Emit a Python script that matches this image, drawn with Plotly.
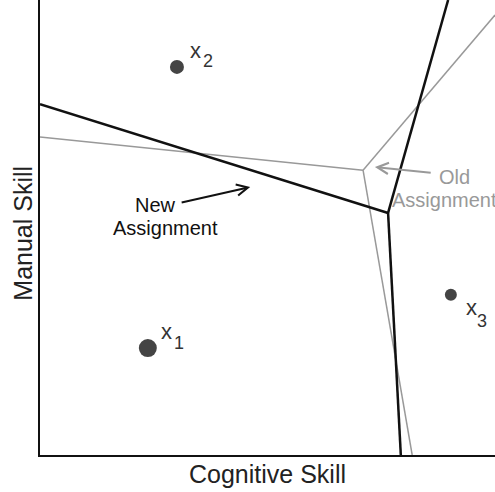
import plotly.graph_objects as go

# ---- data (axis units 0..10 on both axes) ----
point_names = ["1", "2", "3"]
point_x = [2.37, 3.01, 9.03]
point_y = [2.35, 8.53, 3.52]

# new assignment boundaries: vertex + three ends
new_vertex = (7.65, 5.32)
new_ends_x = [0.0, 8.97, 7.93]
new_ends_y = [7.71, 10.0, 0.0]

# old assignment boundaries
old_vertex = (7.10, 6.26)
old_ends_x = [0.0, 10.0, 8.18]
old_ends_y = [6.99, 9.67, 0.0]

# arrows (tail -> head)
new_arrow = {"tail": (3.08, 5.54), "head": (4.62, 5.89)}
old_arrow = {"tail": (8.62, 6.20), "head": (7.36, 6.33)}

# text labels
new_label_lines = ["New", "Assignment"]
new_label_x = [2.53, 2.75]
new_label_y = [5.49, 4.99]
old_label_lines = ["Old", "Assignment"]
old_label_x = [9.12, 8.88]
old_label_y = [6.11, 5.60]

x_title = "Cognitive Skill"
y_title = "Manual Skill"

# ---- styles ----
point_sizes = [18, 14, 12]
label_offsets = [((19, 17), (31, 5)), ((19, 16), (31, 6)), ((21, -13), (31, -26))]
dot_color = "#444444"
black = "#111111"
gray = "#999999"
FONT = "Liberation Sans, Arial, Helvetica, sans-serif"

fig = go.Figure()

def boundary(vertex, ex, ey, color, width):
    xs, ys = [], []
    for x, y in zip(ex, ey):
        xs += [vertex[0], x, None]
        ys += [vertex[1], y, None]
    fig.add_trace(go.Scatter(x=xs, y=ys, mode="lines",
                             line=dict(color=color, width=width),
                             hoverinfo="skip", showlegend=False))

boundary(old_vertex, old_ends_x, old_ends_y, gray, 1.5)
boundary(new_vertex, new_ends_x, new_ends_y, black, 2.5)

fig.add_trace(go.Scatter(x=point_x, y=point_y, mode="markers",
                         marker=dict(size=point_sizes, color=dot_color, opacity=1,
                                     line=dict(width=0)),
                         hoverinfo="skip", showlegend=False))

# point labels x_i
for name, px, py, (xo, so) in zip(point_names, point_x, point_y, label_offsets):
    fig.add_annotation(x=px, y=py, text="x", showarrow=False,
                       xshift=xo[0], yshift=xo[1],
                       font=dict(family=FONT, size=22, color="#333333"))
    fig.add_annotation(x=px, y=py, text=name, showarrow=False,
                       xshift=so[0], yshift=so[1],
                       font=dict(family=FONT, size=18, color="#333333"))

# text labels
for t, x, y in zip(new_label_lines, new_label_x, new_label_y):
    fig.add_annotation(x=x, y=y, text=t, showarrow=False,
                       font=dict(family=FONT, size=20, color="#111111"))
for t, x, y in zip(old_label_lines, old_label_x, old_label_y):
    fig.add_annotation(x=x, y=y, text=t, showarrow=False,
                       font=dict(family=FONT, size=20, color=gray))

# arrows
for arr, color, w in [(new_arrow, black, 2), (old_arrow, gray, 2)]:
    fig.add_annotation(x=arr["head"][0], y=arr["head"][1],
                       ax=arr["tail"][0], ay=arr["tail"][1],
                       xref="x", yref="y", axref="x", ayref="y",
                       text="", showarrow=True, arrowhead=5,
                       arrowsize=1.1, arrowwidth=w, arrowcolor=color)

# y-axis title as a rotated annotation (for exact placement)
fig.add_annotation(xref="paper", yref="paper", x=-0.038, y=0.488,
                   text=y_title, textangle=-90, showarrow=False,
                   xanchor="center", yanchor="middle",
                   font=dict(family=FONT, size=25, color="#222222"))

fig.update_layout(
    width=495, height=492,
    margin=dict(l=40, r=0, t=0, b=37),
    plot_bgcolor="white", paper_bgcolor="white",
    xaxis=dict(range=[0, 10], showgrid=False, zeroline=False,
               showticklabels=False, ticks="", showline=True,
               linecolor="#111111", linewidth=2,
               title=dict(text=x_title, standoff=9,
                          font=dict(family=FONT, size=25, color="#222222"))),
    yaxis=dict(range=[0, 10], showgrid=False, zeroline=False,
               showticklabels=False, ticks="", showline=True,
               linecolor="#111111", linewidth=2),
)

fig.write_html("out.html", config={"displayModeBar": False},
               post_script="document.body.style.margin='0';")
